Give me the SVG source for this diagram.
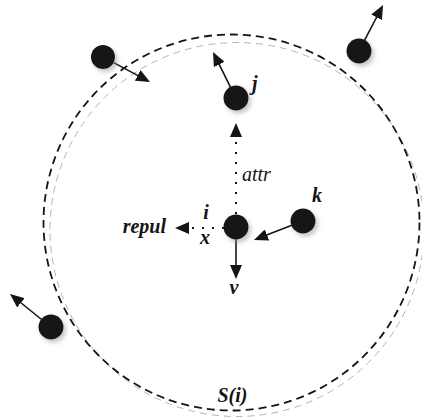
<svg xmlns="http://www.w3.org/2000/svg" width="422" height="418" viewBox="0 0 422 418">
<style>
.node{fill:#151515;filter:url(#sh)}
.arr{stroke:#151515;stroke-width:1.6;fill:none;marker-end:url(#ah)}
.dot{stroke:#151515;stroke-width:2;fill:none;stroke-dasharray:2 8;marker-end:url(#ah)}
.lbl{font-family:"Liberation Serif",serif;font-style:italic;font-weight:bold;font-size:20px;fill:#151515}
.lbl2{font-family:"Liberation Serif",serif;font-style:italic;font-size:20px;fill:#151515}
</style>
<defs>
<filter id="sh" x="-50%" y="-50%" width="200%" height="200%">
<feDropShadow dx="2.5" dy="3" stdDeviation="2" flood-color="#8a8a9a" flood-opacity="0.5"/>
</filter>
<marker id="ah" markerUnits="userSpaceOnUse" markerWidth="14" markerHeight="12" refX="10" refY="6" orient="auto">
<path d="M0,0 L14,6 L0,12 z" fill="#151515"/>
</marker>
</defs>
<g id="circles">
<circle cx="237" cy="229.5" r="187" fill="none" stroke="#aaaaaa" stroke-width="0.9" stroke-dasharray="7 5"/>
<circle cx="231.5" cy="222.5" r="188" fill="none" stroke="#151515" stroke-width="1.8" stroke-dasharray="8 5"/>
</g>
<g id="connectors">
<line class="arr" x1="113.6" y1="62.6" x2="146.5" y2="80.1"/>
<line class="arr" x1="230.6" y1="87.3" x2="214.8" y2="55.6"/>
<line class="arr" x1="364.5" y1="40.4" x2="381.2" y2="8.5"/>
<line class="arr" x1="41.6" y1="319.5" x2="13.1" y2="296.5"/>
<line class="arr" x1="291.8" y1="225.3" x2="257.7" y2="238.6"/>
<line class="arr" x1="236" y1="239" x2="236" y2="275"/>
<line class="dot" x1="236" y1="214" x2="236" y2="127"/>
<line class="dot" x1="224" y1="228" x2="179" y2="228"/>
</g>
<g id="node-a"><circle class="node" cx="103" cy="57" r="12"/></g>
<g id="node-j"><circle class="node" cx="236" cy="98" r="12.5"/><text class="lbl" x="252" y="90">j</text></g>
<g id="node-b"><circle class="node" cx="359" cy="51" r="12.5"/></g>
<g id="node-c"><circle class="node" cx="51" cy="327" r="12.5"/></g>
<g id="node-k"><circle class="node" cx="303" cy="221" r="12.5"/><text class="lbl" x="312" y="202">k</text></g>
<g id="node-i"><circle class="node" cx="236" cy="227" r="12.5"/>
<text class="lbl" x="206" y="219" text-anchor="middle">i</text>
<text class="lbl" x="205" y="244" text-anchor="middle">x</text>
</g>
<g id="labels">
<text class="lbl" x="166" y="233" text-anchor="end">repul</text>
<text class="lbl2" x="242" y="181">attr</text>
<text class="lbl" x="234" y="294" text-anchor="middle">v</text>
<text class="lbl" x="232.5" y="402" text-anchor="middle" font-size="22">S(i)</text>
</g>
</svg>
